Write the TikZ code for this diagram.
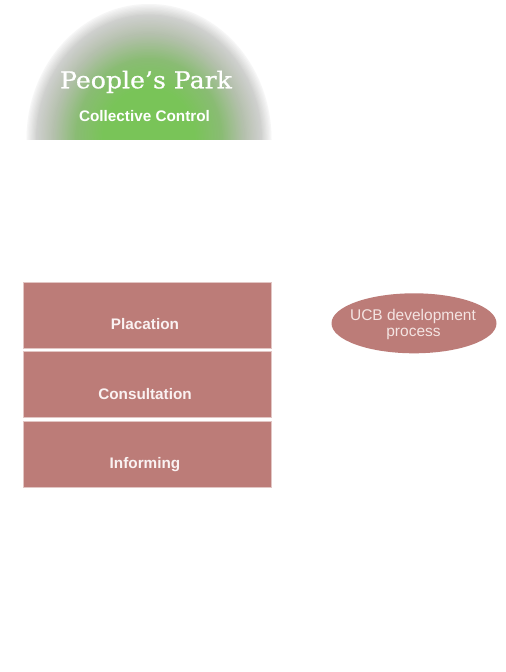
\documentclass[tikz,border=0pt]{standalone}
\usepackage{fontspec}
\usepackage{graphicx}
\setmainfont{Liberation Sans}
\newfontfamily\parkfont{DejaVu Serif}[FakeBold=0.7]
\usetikzlibrary{shapes.geometric}
\definecolor{boxred}{RGB}{188,124,120}
\definecolor{boxedge}{RGB}{226,198,196}
\definecolor{labelwhite}{RGB}{250,242,242}
\definecolor{ucbtext}{RGB}{244,228,226}
\definecolor{parkgreen}{RGB}{121,196,88}
\definecolor{parkmid}{RGB}{138,188,116}
\definecolor{parkgray}{RGB}{180,192,172}
\definecolor{parklight}{RGB}{207,208,206}
\definecolor{parkedge}{RGB}{246,246,246}
\newcommand{\glowring}[5]{% from color, to color, r0, r1, steps
  \foreach \k in {0,...,#5}{%
    \pgfmathsetmacro\rr{#3-(#3-#4)*\k/#5}%
    \pgfmathsetmacro\rx{122.5*\rr}%
    \pgfmathsetmacro\ry{135.5*\rr}%
    \pgfmathtruncatemacro\pp{100*\k/#5}%
    \fill[#2!\pp!#1] (parkcenter) ellipse [x radius=\rx pt, y radius=\ry pt];
  }}
\tikzset{
  stackbox/.style={fill=boxred, draw=boxedge, line width=0.8pt, minimum width=248pt, minimum height=66pt, inner sep=0pt},
  stacklabel/.style={font=\bfseries\fontsize{15.3}{18}\selectfont, text=labelwhite, anchor=base, inner sep=0pt},
  ucbshape/.style={ellipse, fill=boxred, minimum width=165pt, minimum height=60pt, inner sep=0pt},
  ucblabel/.style={font=\fontsize{15.5}{17}\selectfont, text=ucbtext, anchor=base, inner sep=0pt},
}
\begin{document}
\begin{tikzpicture}[x=1pt,y=-1pt]
  \fill[white] (0,0) rectangle (506,672);
  \useasboundingbox (0,0) rectangle (506,672);
  % People's Park half disc with radial glow
  \coordinate (parkcenter) at (149,139.5);
  \begin{scope}
    \clip (26.5,0) rectangle (272,139.5);
    \glowring{parkedge}{parklight}{1.0}{0.92}{8}
    \glowring{parklight}{parkgray}{0.92}{0.78}{14}
    \glowring{parkgray}{parkmid}{0.78}{0.6}{16}
    \glowring{parkmid}{parkgreen}{0.6}{0.38}{18}
  \end{scope}
  \node[anchor=base, inner sep=0pt, text=white] (park) at (146,88.3)
    {\scalebox{1.08}[1]{\parkfont\fontsize{23.3}{26}\selectfont People’s Park}};
  \node[anchor=base, inner sep=0pt, text=white, font=\bfseries\fontsize{15.3}{18}\selectfont] (collective) at (144.5,121) {Collective Control};
  % ladder boxes
  \node[stackbox] (placation) at (147.5,315.3) {};
  \node[stackbox] (consultation) at (147.5,384.5) {};
  \node[stackbox] (informing) at (147.5,454.2) {};
  \node[stacklabel] (placationText) at (145,329.3) {Placation};
  \node[stacklabel] (consultationText) at (145,399) {Consultation};
  \node[stacklabel] (informingText) at (145,468.7) {Informing};
  % UCB ellipse
  \node[ucbshape] (ucb) at (414,323.3) {};
  \node[ucblabel] (ucbLineA) at (413,320) {UCB development};
  \node[ucblabel] (ucbLineB) at (413.5,336.7) {process};
\end{tikzpicture}
\end{document}
